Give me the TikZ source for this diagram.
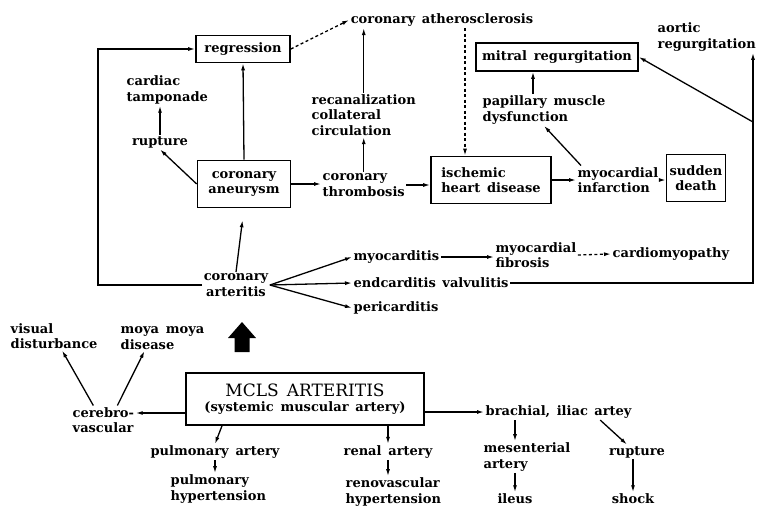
\documentclass[tikz,border=0pt]{standalone}
\usepackage{fontspec}
\setmainfont{DejaVu Serif}[WordSpace=1.5]
\usetikzlibrary{arrows.meta}

\begin{document}
\begin{tikzpicture}[x=1pt,y=-1pt,
  txt/.style={font=\bfseries\fontsize{13}{15.5}\selectfont,inner sep=1.5pt},
  lbox/.style={txt,draw,line width=1.6pt,inner sep=3pt},
  arr/.style={line width=1.3pt,-{Latex[length=7pt,width=4pt]}},
  dotline/.style={dash pattern=on 3pt off 2.5pt}]
  \useasboundingbox (0,0) rectangle (762,509);

  % Top part: coronary lesions
  \node[lbox,minimum width=94pt,minimum height=27pt] (regr) at (243,49) {regression};
  \node[txt] (athero) at (442,20) {coronary atherosclerosis};
  \node[txt,anchor=west,align=left] (tamp) at (125,90) {cardiac\\tamponade};
  \node[txt] (rupt1) at (160,142) {rupture};
  \node[lbox,minimum width=93pt,minimum height=47pt,align=center] (aneur) at (244,184) {coronary\\aneurysm};
  \node[txt,anchor=west,align=left] (recan) at (310,115) {recanalization\\collateral\\circulation};
  \node[txt,anchor=west,align=left] (thromb) at (321,185) {coronary\\thrombosis};
  \node[lbox,minimum width=120pt,minimum height=47pt,align=left] (ihd) at (491,180) {ischemic\\heart disease};
  \node[lbox,minimum width=162pt,minimum height=28pt] (mitral) at (557,57) {mitral regurgitation};
  \node[txt,anchor=west,align=left] (papil) at (481,110) {papillary muscle\\dysfunction};
  \node[txt,anchor=west,align=left] (mi) at (576,180) {myocardial\\infarction};
  \node[lbox,minimum width=58pt,minimum height=47pt,align=center] (death) at (696,178) {sudden\\death};
  \node[txt,anchor=west,align=left] (aortic) at (656,37) {aortic\\regurgitation};

  % Coronary arteritis and carditis
  \node[txt,align=center] (carter) at (236,285) {coronary\\arteritis};
  \node[txt,anchor=west] (myoc) at (352,257) {myocarditis};
  \node[txt,anchor=west,align=left] (fibro) at (494,255) {myocardial\\fibrosis};
  \node[txt,anchor=west] (cmp) at (611,254) {cardiomyopathy};
  \node[txt,anchor=west] (endo) at (352,283) {endcarditis\enspace valvulitis};
  \node[txt,anchor=west] (peri) at (352,308) {pericarditis};

  % MCLS and systemic arteries
  \node[lbox,minimum width=238pt,minimum height=52pt,align=center] (mcls) at (305,399)
    {{\mdseries\fontsize{17}{19}\selectfont MCLS ARTERITIS}\\(systemic muscular artery)};
  \node[txt,anchor=west,align=left] (visual) at (9,336) {visual\\disturbance};
  \node[txt,anchor=west,align=left] (moya) at (119,338) {moya moya\\disease};
  \node[txt,anchor=west,align=left] (cerebro) at (71,420) {cerebro-\\vascular};
  \node[txt] (pulm) at (215,452) {pulmonary artery};
  \node[txt,anchor=west,align=left] (pulmht) at (169,489) {pulmonary\\hypertension};
  \node[txt] (renal) at (388,452) {renal artery};
  \node[txt,anchor=west,align=left] (renovas) at (344,492) {renovascular\\hypertension};
  \node[txt,anchor=west] (brach) at (484,412) {brachial,\enspace iliac\enspace artey};
  \node[txt,anchor=west,align=left] (mesen) at (482,457) {mesenterial\\artery};
  \node[txt] (ileus) at (515,499) {ileus};
  \node[txt] (rupt2) at (637,452) {rupture};
  \node[txt] (shock) at (633,499) {shock};

  \coordinate (lp) at (98,0);
  \coordinate (rv) at (753,0);
  \coordinate (jn) at (753,122);

  % Arrows, top
  \draw[arr,dotline] (regr.east) -- (athero.west);
  \draw[arr] (recan.north) -- (recan.north |- athero.south);
  \draw[arr] (thromb.north) -- (thromb.north |- recan.south);
  \draw[arr] (aneur.east) -- (aneur.east -| thromb.west);
  \draw[arr] (thromb.east) -- (thromb.east -| ihd.west);
  \draw[arr] (ihd.east) -- (ihd.east -| mi.west);
  \draw[arr] (mi.east) -- (mi.east -| death.west);
  \draw[arr] ([xshift=5pt]mi.north west) -- (papil.south);
  \draw[arr] (papil.north -| 533,0) -- (mitral.south -| 533,0);
  \draw[arr,dotline] (athero.south -| 465,0) -- (ihd.north -| 465,0);
  \draw[arr] (aneur.north) -- (regr.south);
  \draw[arr] (aneur.west) -- (rupt1.south);
  \draw[arr] (rupt1.north) -- (rupt1.north |- tamp.south);
  \draw[arr,shorten >=12pt] (carter.north) -- (aneur.south);
  \draw[arr] (carter.west) -- (carter.west -| lp) |- (regr.west);

  % Arrows, carditis
  \draw[arr] (carter.east) -- (myoc.west);
  \draw[arr] (carter.east) -- (endo.west);
  \draw[arr] (carter.east) -- (peri.west);
  \draw[arr] (myoc.east) -- (myoc.east -| fibro.west);
  \draw[arr,dotline] (fibro.east) -- (cmp.west);
  \draw[arr] (endo.east) -- (endo.east -| rv) -- (aortic.south -| rv);
  \draw[arr] (jn) -- (mitral.east);

  % Big arrow
  \fill (242,322) -- (256,338) -- (249.5,338) -- (249.5,352) -- (234.5,352) -- (234.5,338) -- (228,338) -- cycle;

  % Arrows, bottom
  \draw[arr] ([yshift=-14pt]mcls.west) -- ([yshift=7pt]cerebro.east);
  \draw[arr] ([xshift=-10pt]cerebro.north) -- ([xshift=8pt]visual.south);
  \draw[arr] ([xshift=14pt]cerebro.north) -- ([xshift=-18pt]moya.south);
  \draw[arr] ([xshift=-83pt]mcls.south) -- (pulm.north);
  \draw[arr] (pulm.south) -- (pulm.south |- pulmht.north);
  \draw[arr] (mcls.south -| renal.north) -- (renal.north);
  \draw[arr] (renal.south) -- (renal.south |- renovas.north);
  \draw[arr] (mcls.east |- brach.west) -- (brach.west);
  \draw[arr] (ileus |- brach.south) -- (ileus |- mesen.north);
  \draw[arr] (ileus |- mesen.south) -- (ileus.north);
  \draw[arr] ([xshift=-33pt]brach.south east) -- ([xshift=-10pt]rupt2.north);
  \draw[arr] (shock |- rupt2.south) -- (shock.north);
\end{tikzpicture}
\end{document}
